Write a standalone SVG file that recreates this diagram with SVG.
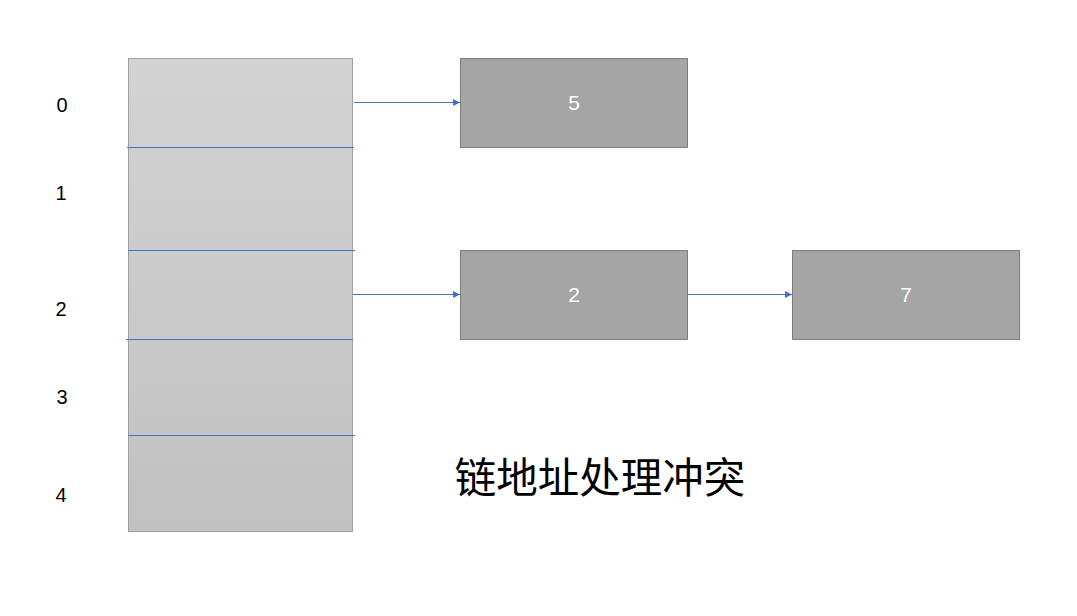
<svg xmlns="http://www.w3.org/2000/svg" width="1077" height="616" viewBox="0 0 1077 616">
<style>
.idx{font-family:"Liberation Sans","Noto Sans",sans-serif;font-size:20px;fill:#000;text-anchor:middle}
.box{fill:#a5a5a5;stroke:#7f7f7f;stroke-width:1}
.bt{font-family:"Liberation Sans","Noto Sans",sans-serif;font-size:21px;fill:#fff;text-anchor:middle}
.sep{stroke:#4472c4;stroke-width:1}
.con{stroke:#4472c4;stroke-width:1;fill:none;marker-end:url(#ah)}
.title{font-family:"Noto Sans CJK SC","Microsoft YaHei",sans-serif;font-size:41.5px;fill:#000;text-anchor:middle}
</style>
<defs>
<linearGradient id="g" x1="0" y1="0" x2="0" y2="1">
<stop offset="0" stop-color="#d3d3d3"/>
<stop offset="1" stop-color="#c1c1c1"/>
</linearGradient>
<marker id="ah" markerWidth="8" markerHeight="8" refX="7" refY="4" orient="auto" markerUnits="userSpaceOnUse">
<path d="M0,0.5 L7,4 L0,7.5 Z" fill="#4472c4"/>
</marker>
</defs>
<g id="table">
<rect x="128.5" y="58.5" width="224" height="473" fill="url(#g)" stroke="#a0a0a0" stroke-width="1"/>
<line class="sep" x1="127" y1="147.5" x2="354" y2="147.5"/>
<line class="sep" x1="128" y1="250.5" x2="355" y2="250.5"/>
<line class="sep" x1="126" y1="339.5" x2="353" y2="339.5"/>
<line class="sep" x1="128" y1="435.5" x2="355" y2="435.5"/>
</g>
<g id="labels">
<text class="idx" x="62" y="112">0</text>
<text class="idx" x="61" y="200">1</text>
<text class="idx" x="61" y="316">2</text>
<text class="idx" x="62" y="404">3</text>
<text class="idx" x="61" y="502">4</text>
</g>
<g id="node5">
<rect class="box" x="460.5" y="58.5" width="227" height="89"/>
<text class="bt" x="574" y="110">5</text>
</g>
<g id="node2">
<rect class="box" x="460.5" y="250.5" width="227" height="89"/>
<text class="bt" x="574" y="302">2</text>
</g>
<g id="node7">
<rect class="box" x="792.5" y="250.5" width="227" height="89"/>
<text class="bt" x="906" y="302">7</text>
</g>
<g id="connectors">
<line class="con" x1="354" y1="102.5" x2="460" y2="102.5"/>
<line class="con" x1="353" y1="294.5" x2="460" y2="294.5"/>
<line class="con" x1="688" y1="294.5" x2="792" y2="294.5"/>
</g>
<text id="title" class="title" x="600" y="493">链地址处理冲突</text>
</svg>
